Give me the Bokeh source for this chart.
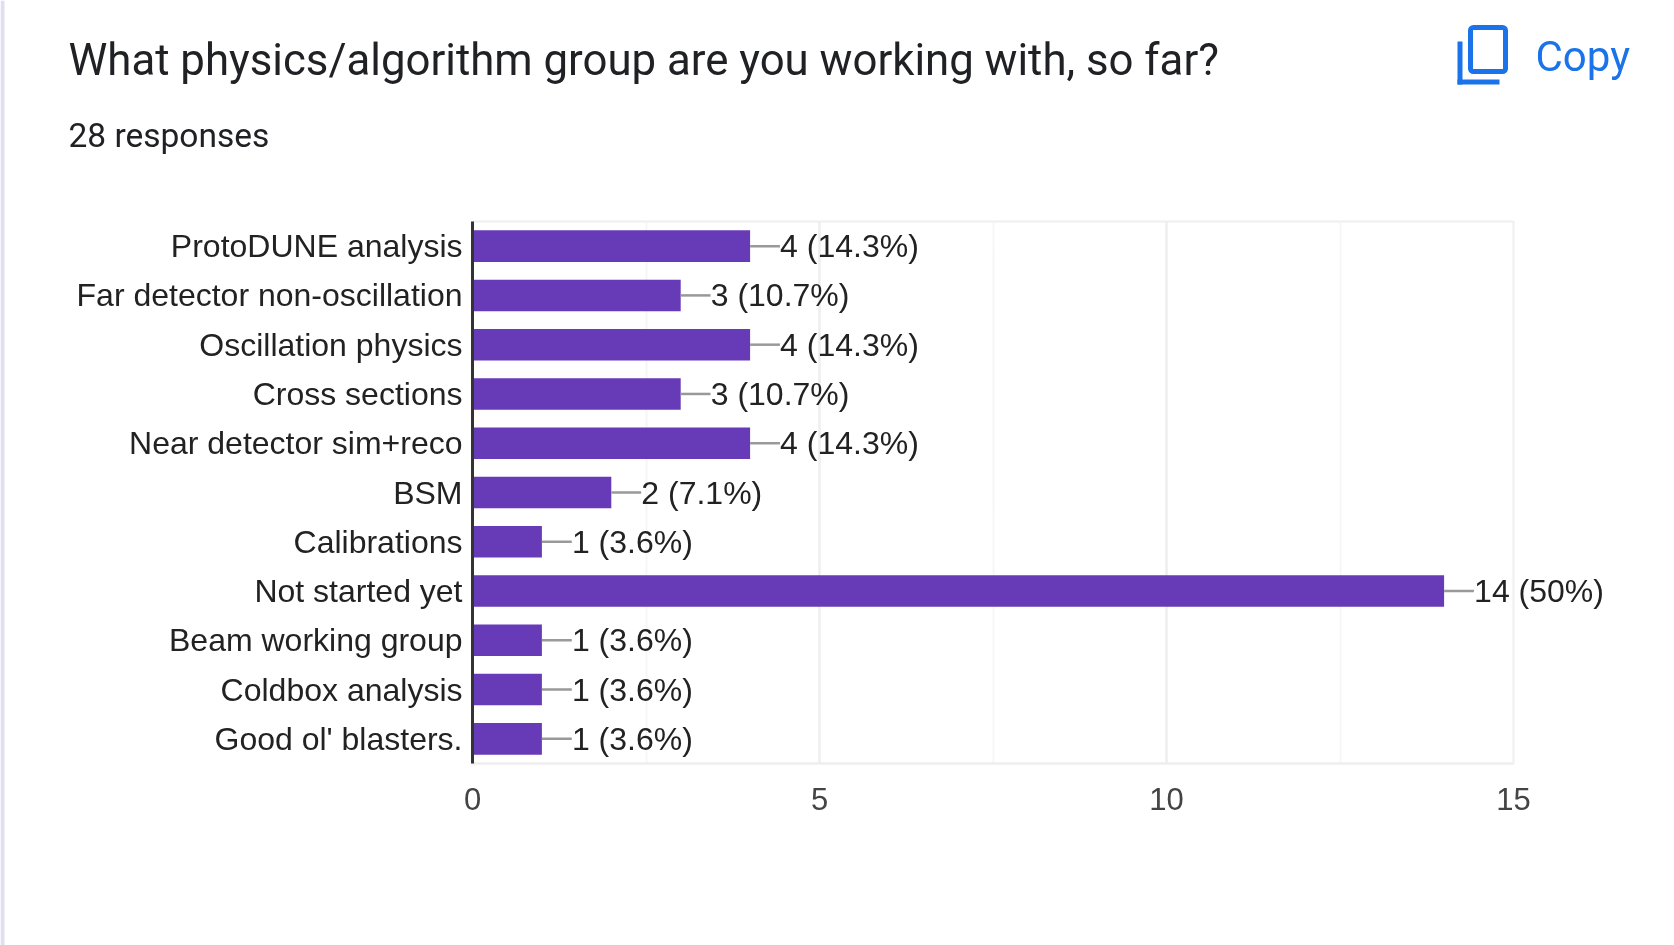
from bokeh.plotting import figure
from bokeh.models import FactorRange, Range1d, FixedTicker, Label, BoxAnnotation
from bokeh.embed import file_html
from bokeh.resources import INLINE

categories = ["ProtoDUNE analysis", "Far detector non-oscillation", "Oscillation physics",
              "Cross sections", "Near detector sim+reco", "BSM", "Calibrations",
              "Not started yet", "Beam working group", "Coldbox analysis", "Good ol' blasters."]
counts = [4, 3, 4, 3, 4, 2, 1, 14, 1, 1, 1]
value_labels = ["4 (14.3%)", "3 (10.7%)", "4 (14.3%)", "3 (10.7%)", "4 (14.3%)", "2 (7.1%)",
                "1 (3.6%)", "14 (50%)", "1 (3.6%)", "1 (3.6%)", "1 (3.6%)"]
x_ticks = [0, 5, 10, 15]
x_minor = [2.5, 7.5, 12.5]

W, H = 1674, 945
FL, FR, FT, FB = 472, 1513, 221, 763
pin = {"position": "fixed", "left": "0px", "top": "0px"}

p = figure(width=W, height=H, output_backend="svg", toolbar_location=None,
           x_range=Range1d(0, 15), y_range=FactorRange(factors=categories[::-1]),
           min_border_left=FL, min_border_right=W - FR, min_border_top=FT, min_border_bottom=H - FB)
p.styles = pin
p.background_fill_color = "white"
p.border_fill_color = "white"
p.outline_line_color = "#efefef"
p.outline_line_width = 2

p.xgrid.ticker = FixedTicker(ticks=x_ticks, minor_ticks=x_minor)
p.xgrid.grid_line_color = "#eeeeee"
p.xgrid.grid_line_width = 2.5
p.xgrid.minor_grid_line_color = "#f6f6f6"
p.xgrid.minor_grid_line_width = 2
p.ygrid.grid_line_color = None

p.xaxis.ticker = FixedTicker(ticks=x_ticks)
p.xaxis.axis_line_color = "#eeeeee"
p.xaxis.axis_line_width = 2
p.xaxis.major_tick_line_color = None
p.xaxis.minor_tick_line_color = None
p.xaxis.major_label_text_font = "Liberation Sans"
p.xaxis.major_label_text_font_size = "31px"
p.xaxis.major_label_text_color = "#444444"
p.xaxis.major_label_standoff = 18

p.yaxis.axis_line_color = "#333333"
p.yaxis.axis_line_width = 3
p.yaxis.major_tick_line_color = None
p.yaxis.minor_tick_line_color = None
p.yaxis.major_label_text_font = "Liberation Sans"
p.yaxis.major_label_text_font_size = "32px"
p.yaxis.major_label_text_color = "#222222"
p.yaxis.major_label_standoff = 4

p.hbar(y=categories, left=0, right=counts, height=0.64, color="#673ab7", line_color=None)
p.segment(x0=counts, y0=categories, x1=[c + 0.43 for c in counts], y1=categories,
          line_color="#999999", line_width=2.5)

# Transparent sheet over the whole page, for what lies outside the plot frame.
n = len(categories)
ux = (FR - FL) / 15
uy = (FB - FT) / n
q = figure(width=W, height=H, output_backend="svg", toolbar_location=None,
           x_range=Range1d(-FL / ux, (W - FL) / ux),
           y_range=Range1d(-(H - FB) / uy, n + FT / uy),
           min_border=0, x_axis_location=None, y_axis_location=None)
q.styles = pin
q.grid.visible = False
q.outline_line_color = None
q.background_fill_alpha = 0
q.border_fill_alpha = 0

q.text(x=counts, y=[n - 1 - i + 0.5 for i in range(n)], text=value_labels, x_offset=30,
       text_align="left", text_baseline="middle", text_color="#222222",
       text_font={"value": "Liberation Sans"}, text_font_size={"value": "32px"})

def label(x, y, text, size, color, font):
    q.add_layout(Label(x=x, y=H - y, x_units="screen", y_units="screen", text=text,
                       text_font_size=size, text_color=color, text_font=font,
                       text_baseline="alphabetic", text_align="left"))

label(68, 59, "What physics/algorithm group are you working with, so far?", "43.75px", "#202124", "Roboto")
label(68, 135, "28 responses", "33.5px", "#202124", "Roboto")
label(1535, 56, "Copy", "42px", "#1a73e8", "Roboto")

def box(l, r, t, b, **kw):
    q.add_layout(BoxAnnotation(left=l, right=r, top=H - t, bottom=H - b,
                               left_units="screen", right_units="screen",
                               top_units="screen", bottom_units="screen", **kw))

box(0, 4, 0, H, fill_color="#dfdff0", fill_alpha=1, line_color=None)
box(1470, 1505, 27, 71, fill_color=None, fill_alpha=0, line_color="#1a73e8", line_width=5,
    line_alpha=1, border_radius=3)
box(1457, 1462, 41, 84, fill_color="#1a73e8", fill_alpha=1, line_color=None)
box(1457, 1499, 79, 84, fill_color="#1a73e8", fill_alpha=1, line_color=None)

open("out.html", "w").write(file_html([p, q], INLINE))
